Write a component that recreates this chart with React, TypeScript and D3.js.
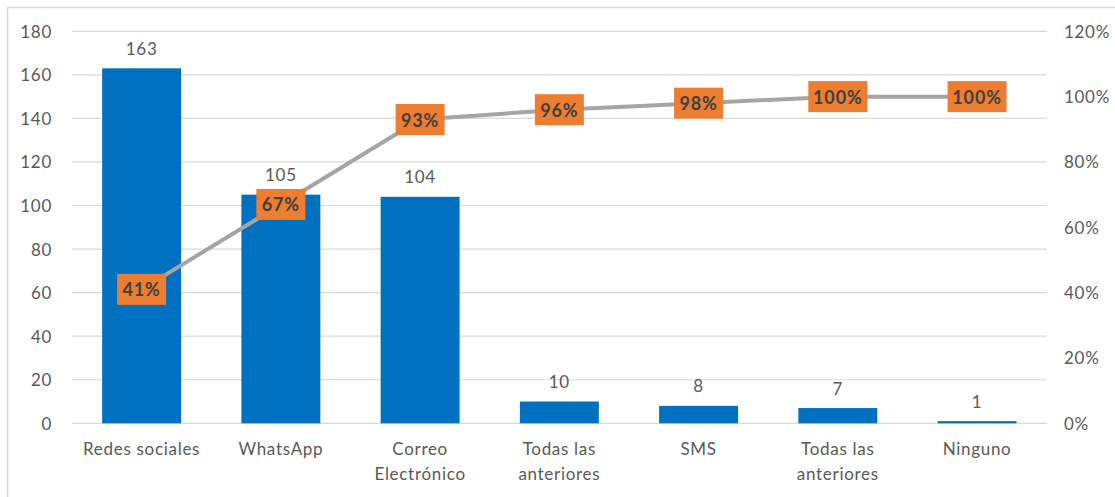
import React from "react";
import * as d3 from "d3";

// Channels used to receive information, with counts and cumulative share
const categoryLines: string[][] = [
  ["Redes sociales"],
  ["WhatsApp"],
  ["Correo", "Electrónico"],
  ["Todas las", "anteriores"],
  ["SMS"],
  ["Todas las", "anteriores"],
  ["Ninguno"],
];
const counts = [163, 105, 104, 10, 8, 7, 1];
const cumulativePct = [41, 67, 93, 96, 98, 100, 100];
const leftTicks = [0, 20, 40, 60, 80, 100, 120, 140, 160, 180];
const rightTicks = [0, 20, 40, 60, 80, 100, 120];

const W = 1115;
const H = 497;
const plotLeft = 72;
const plotRight = 1046.7;
const plotTop = 31.3;
const plotBottom = 423.3;

const FONT = "Lato, 'Open Sans', sans-serif";
const TEXT = "#595959";
const FS = 17;
const LS = 0.7;

export default function App() {
  const idx = counts.map((_, i) => String(i));
  const x = d3
    .scaleBand<string>()
    .domain(idx)
    .range([plotLeft, plotRight])
    .paddingInner(0.433)
    .paddingOuter(0.2165);
  const y = d3.scaleLinear().domain([0, 180]).range([plotBottom, plotTop]);
  const yR = d3.scaleLinear().domain([0, 120]).range([plotBottom, plotTop]);
  const cx = (i: number) => (x(String(i)) as number) + x.bandwidth() / 2;

  const line = d3
    .line<number>()
    .x((_, i) => cx(i))
    .y((d) => yR(d));

  return (
    <svg
      width={W}
      height={H}
      style={{ position: "absolute", left: 0, top: 0, background: "#fff" }}
      fontFamily={FONT}
    >
      <rect x={7.5} y={7.5} width={W + 10} height={H + 10} fill="#fff" stroke="#d9d9d9" strokeWidth={1.5} />

      {/* gridlines */}
      {leftTicks.map((t) => (
        <line key={t} x1={plotLeft} x2={plotRight} y1={y(t)} y2={y(t)} stroke="#d9d9d9" strokeWidth={1.2} />
      ))}

      {/* left axis labels */}
      {leftTicks.map((t) => (
        <text key={"l" + t} x={52} y={y(t)} textAnchor="end" dominantBaseline="central" fontSize={FS} letterSpacing={LS} fill={TEXT}>
          {t}
        </text>
      ))}

      {/* right axis labels */}
      {rightTicks.map((t) => (
        <text key={"r" + t} x={1064} y={yR(t)} textAnchor="start" dominantBaseline="central" fontSize={FS} letterSpacing={LS} fill={TEXT}>
          {t}%
        </text>
      ))}

      {/* bars */}
      {counts.map((v, i) => (
        <rect
          key={"b" + i}
          x={x(String(i))}
          y={y(v)}
          width={x.bandwidth()}
          height={y(0) - y(v)}
          fill="#0070c0"
        />
      ))}

      {/* bar values */}
      {counts.map((v, i) => (
        <text key={"v" + i} x={cx(i)} y={y(v) - 20} textAnchor="middle" dominantBaseline="central" fontSize={FS} letterSpacing={LS} fill={TEXT}>
          {v}
        </text>
      ))}

      {/* category labels */}
      {categoryLines.map((lines, i) => (
        <text key={"c" + i} x={cx(i)} textAnchor="middle" fontSize={FS} letterSpacing={LS} fill={TEXT}>
          {lines.map((ln, j) => (
            <tspan key={j} x={cx(i)} y={448 + j * 25} dominantBaseline="central">
              {ln}
            </tspan>
          ))}
        </text>
      ))}

      {/* cumulative line */}
      <path d={line(cumulativePct) || ""} fill="none" stroke="#a5a5a5" strokeWidth={4} strokeLinejoin="round" />

      {/* cumulative labels */}
      {cumulativePct.map((p, i) => {
        const label = `${p}%`;
        const bw = 19 + 10 * label.length;
        const bh = 31;
        return (
          <g key={"p" + i}>
            <rect x={cx(i) - bw / 2} y={yR(p) - bh / 2} width={bw} height={bh} fill="#ed7d31" />
            <text
              x={cx(i)}
              y={yR(p)}
              textAnchor="middle"
              dominantBaseline="central"
              fontSize={18}
              fontWeight="bold"
              letterSpacing={0.9}
              fill="#404040"
            >
              {label}
            </text>
          </g>
        );
      })}
    </svg>
  );
}
